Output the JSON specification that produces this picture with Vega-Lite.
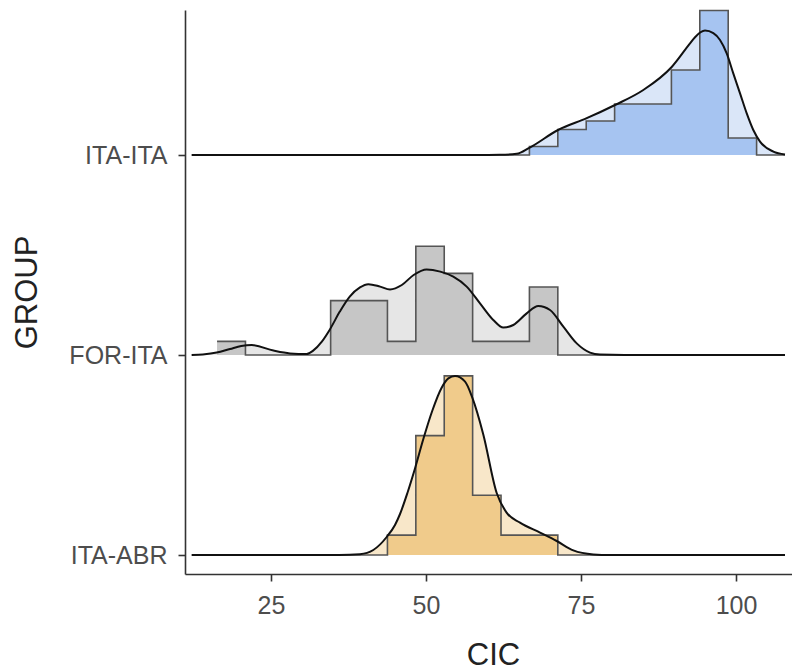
{
  "$schema": "https://vega.github.io/schema/vega-lite/v6.json",
  "width": 607,
  "height": 564,
  "autosize": {"type": "none"},
  "padding": {"left": 185, "top": 10, "right": 0, "bottom": 98},
  "background": "white",
  "config": {
    "view": {"stroke": null},
    "font": "Liberation Sans",
    "axis": {
      "grid": false,
      "domainColor": "#333333",
      "domainWidth": 1.6,
      "tickColor": "#333333",
      "tickWidth": 1.6,
      "tickSize": 7,
      "labelFont": "Liberation Sans",
      "labelFontSize": 25,
      "labelColor": "#4d4d4d",
      "titleFont": "Liberation Sans",
      "titleFontSize": 31,
      "titleFontWeight": "normal",
      "titleColor": "#222222"
    }
  },
  "datasets": {
    "hist": [
      {"group": "ITA-ITA", "x": 16.3, "height": 0},
      {"group": "ITA-ITA", "x": 20.88, "height": 0},
      {"group": "ITA-ITA", "x": 25.46, "height": 0},
      {"group": "ITA-ITA", "x": 30.04, "height": 0},
      {"group": "ITA-ITA", "x": 34.62, "height": 0},
      {"group": "ITA-ITA", "x": 39.2, "height": 0},
      {"group": "ITA-ITA", "x": 43.78, "height": 0},
      {"group": "ITA-ITA", "x": 48.36, "height": 0},
      {"group": "ITA-ITA", "x": 52.94, "height": 0},
      {"group": "ITA-ITA", "x": 57.52, "height": 0},
      {"group": "ITA-ITA", "x": 62.1, "height": 0},
      {"group": "ITA-ITA", "x": 66.68, "height": 0.0425},
      {"group": "ITA-ITA", "x": 71.26, "height": 0.1275},
      {"group": "ITA-ITA", "x": 75.84, "height": 0.17},
      {"group": "ITA-ITA", "x": 80.42, "height": 0.255},
      {"group": "ITA-ITA", "x": 85.0, "height": 0.255},
      {"group": "ITA-ITA", "x": 89.58, "height": 0.425},
      {"group": "ITA-ITA", "x": 94.16, "height": 0.7225},
      {"group": "ITA-ITA", "x": 98.74, "height": 0.085},
      {"group": "ITA-ITA", "x": 103.32, "height": 0},
      {"group": "ITA-ITA", "x": 107.9, "height": 0},
      {"group": "FOR-ITA", "x": 16.3, "height": 0.068},
      {"group": "FOR-ITA", "x": 20.88, "height": 0},
      {"group": "FOR-ITA", "x": 25.46, "height": 0},
      {"group": "FOR-ITA", "x": 30.04, "height": 0},
      {"group": "FOR-ITA", "x": 34.62, "height": 0.272},
      {"group": "FOR-ITA", "x": 39.2, "height": 0.272},
      {"group": "FOR-ITA", "x": 43.78, "height": 0.068},
      {"group": "FOR-ITA", "x": 48.36, "height": 0.544},
      {"group": "FOR-ITA", "x": 52.94, "height": 0.408},
      {"group": "FOR-ITA", "x": 57.52, "height": 0.068},
      {"group": "FOR-ITA", "x": 62.1, "height": 0.068},
      {"group": "FOR-ITA", "x": 66.68, "height": 0.34},
      {"group": "FOR-ITA", "x": 71.26, "height": 0},
      {"group": "FOR-ITA", "x": 75.84, "height": 0},
      {"group": "FOR-ITA", "x": 80.42, "height": 0},
      {"group": "FOR-ITA", "x": 85.0, "height": 0},
      {"group": "FOR-ITA", "x": 89.58, "height": 0},
      {"group": "FOR-ITA", "x": 94.16, "height": 0},
      {"group": "FOR-ITA", "x": 98.74, "height": 0},
      {"group": "FOR-ITA", "x": 103.32, "height": 0},
      {"group": "FOR-ITA", "x": 107.9, "height": 0},
      {"group": "ITA-ABR", "x": 16.3, "height": 0},
      {"group": "ITA-ABR", "x": 20.88, "height": 0},
      {"group": "ITA-ABR", "x": 25.46, "height": 0},
      {"group": "ITA-ABR", "x": 30.04, "height": 0},
      {"group": "ITA-ABR", "x": 34.62, "height": 0},
      {"group": "ITA-ABR", "x": 39.2, "height": 0},
      {"group": "ITA-ABR", "x": 43.78, "height": 0.0995},
      {"group": "ITA-ABR", "x": 48.36, "height": 0.597},
      {"group": "ITA-ABR", "x": 52.94, "height": 0.8955},
      {"group": "ITA-ABR", "x": 57.52, "height": 0.2985},
      {"group": "ITA-ABR", "x": 62.1, "height": 0.0995},
      {"group": "ITA-ABR", "x": 66.68, "height": 0.0995},
      {"group": "ITA-ABR", "x": 71.26, "height": 0},
      {"group": "ITA-ABR", "x": 75.84, "height": 0},
      {"group": "ITA-ABR", "x": 80.42, "height": 0},
      {"group": "ITA-ABR", "x": 85.0, "height": 0},
      {"group": "ITA-ABR", "x": 89.58, "height": 0},
      {"group": "ITA-ABR", "x": 94.16, "height": 0},
      {"group": "ITA-ABR", "x": 98.74, "height": 0},
      {"group": "ITA-ABR", "x": 103.32, "height": 0},
      {"group": "ITA-ABR", "x": 107.9, "height": 0}
    ],
    "dens": [
      {"group": "ITA-ITA", "x": 12.2, "height": 0},
      {"group": "ITA-ITA", "x": 55.0, "height": 0},
      {"group": "ITA-ITA", "x": 61.9, "height": 0.001},
      {"group": "ITA-ITA", "x": 64.63, "height": 0.006},
      {"group": "ITA-ITA", "x": 66.66, "height": 0.036},
      {"group": "ITA-ITA", "x": 71.29, "height": 0.125},
      {"group": "ITA-ITA", "x": 75.92, "height": 0.184},
      {"group": "ITA-ITA", "x": 80.48, "height": 0.25},
      {"group": "ITA-ITA", "x": 85.05, "height": 0.325},
      {"group": "ITA-ITA", "x": 89.63, "height": 0.44},
      {"group": "ITA-ITA", "x": 92.58, "height": 0.558},
      {"group": "ITA-ITA", "x": 93.39, "height": 0.589},
      {"group": "ITA-ITA", "x": 95.0, "height": 0.622},
      {"group": "ITA-ITA", "x": 96.34, "height": 0.609},
      {"group": "ITA-ITA", "x": 97.42, "height": 0.575},
      {"group": "ITA-ITA", "x": 98.5, "height": 0.508},
      {"group": "ITA-ITA", "x": 99.56, "height": 0.408},
      {"group": "ITA-ITA", "x": 100.65, "height": 0.308},
      {"group": "ITA-ITA", "x": 101.73, "height": 0.208},
      {"group": "ITA-ITA", "x": 102.79, "height": 0.125},
      {"group": "ITA-ITA", "x": 103.87, "height": 0.067},
      {"group": "ITA-ITA", "x": 106.02, "height": 0.017},
      {"group": "ITA-ITA", "x": 107.9, "height": 0.003},
      {"group": "FOR-ITA", "x": 12.2, "height": 0},
      {"group": "FOR-ITA", "x": 14.0, "height": 0.003},
      {"group": "FOR-ITA", "x": 16.24, "height": 0.012},
      {"group": "FOR-ITA", "x": 18.39, "height": 0.03},
      {"group": "FOR-ITA", "x": 20.2, "height": 0.045},
      {"group": "FOR-ITA", "x": 21.89, "height": 0.05},
      {"group": "FOR-ITA", "x": 25.4, "height": 0.022},
      {"group": "FOR-ITA", "x": 28.06, "height": 0.008},
      {"group": "FOR-ITA", "x": 30.76, "height": 0.005},
      {"group": "FOR-ITA", "x": 31.8, "height": 0.022},
      {"group": "FOR-ITA", "x": 33.2, "height": 0.067},
      {"group": "FOR-ITA", "x": 34.5, "height": 0.128},
      {"group": "FOR-ITA", "x": 36.1, "height": 0.217},
      {"group": "FOR-ITA", "x": 37.7, "height": 0.292},
      {"group": "FOR-ITA", "x": 39.35, "height": 0.338},
      {"group": "FOR-ITA", "x": 40.7, "height": 0.354},
      {"group": "FOR-ITA", "x": 42.6, "height": 0.342},
      {"group": "FOR-ITA", "x": 44.2, "height": 0.328},
      {"group": "FOR-ITA", "x": 46.1, "height": 0.35},
      {"group": "FOR-ITA", "x": 48.0, "height": 0.4},
      {"group": "FOR-ITA", "x": 50.1, "height": 0.428},
      {"group": "FOR-ITA", "x": 52.3, "height": 0.417},
      {"group": "FOR-ITA", "x": 54.4, "height": 0.392},
      {"group": "FOR-ITA", "x": 56.56, "height": 0.342},
      {"group": "FOR-ITA", "x": 58.71, "height": 0.258},
      {"group": "FOR-ITA", "x": 60.85, "height": 0.175},
      {"group": "FOR-ITA", "x": 62.47, "height": 0.137},
      {"group": "FOR-ITA", "x": 64.08, "height": 0.15},
      {"group": "FOR-ITA", "x": 66.24, "height": 0.208},
      {"group": "FOR-ITA", "x": 68.11, "height": 0.245},
      {"group": "FOR-ITA", "x": 70.0, "height": 0.225},
      {"group": "FOR-ITA", "x": 72.15, "height": 0.142},
      {"group": "FOR-ITA", "x": 74.31, "height": 0.058},
      {"group": "FOR-ITA", "x": 76.45, "height": 0.012},
      {"group": "FOR-ITA", "x": 78.06, "height": 0.002},
      {"group": "FOR-ITA", "x": 82.0, "height": 0},
      {"group": "FOR-ITA", "x": 107.9, "height": 0},
      {"group": "ITA-ABR", "x": 12.2, "height": 0},
      {"group": "ITA-ABR", "x": 36.0, "height": 0},
      {"group": "ITA-ABR", "x": 39.35, "height": 0.004},
      {"group": "ITA-ABR", "x": 41.5, "height": 0.025},
      {"group": "ITA-ABR", "x": 43.66, "height": 0.09},
      {"group": "ITA-ABR", "x": 45.0, "height": 0.15},
      {"group": "ITA-ABR", "x": 45.81, "height": 0.205},
      {"group": "ITA-ABR", "x": 47.0, "height": 0.31},
      {"group": "ITA-ABR", "x": 48.2, "height": 0.43},
      {"group": "ITA-ABR", "x": 49.57, "height": 0.58},
      {"group": "ITA-ABR", "x": 51.0, "height": 0.72},
      {"group": "ITA-ABR", "x": 52.5, "height": 0.835},
      {"group": "ITA-ABR", "x": 53.6, "height": 0.883},
      {"group": "ITA-ABR", "x": 54.68, "height": 0.895},
      {"group": "ITA-ABR", "x": 56.3, "height": 0.867},
      {"group": "ITA-ABR", "x": 57.47, "height": 0.787},
      {"group": "ITA-ABR", "x": 59.24, "height": 0.603},
      {"group": "ITA-ABR", "x": 61.4, "height": 0.31},
      {"group": "ITA-ABR", "x": 63.0, "height": 0.212},
      {"group": "ITA-ABR", "x": 65.16, "height": 0.162},
      {"group": "ITA-ABR", "x": 68.39, "height": 0.112},
      {"group": "ITA-ABR", "x": 71.08, "height": 0.07},
      {"group": "ITA-ABR", "x": 73.76, "height": 0.023},
      {"group": "ITA-ABR", "x": 76.98, "height": 0.003},
      {"group": "ITA-ABR", "x": 79.68, "height": 0},
      {"group": "ITA-ABR", "x": 107.9, "height": 0}
    ]
  },
  "resolve": {"scale": {"color": "independent"}},
  "layer": [
    {
      "data": {"name": "dens"},
      "transform": [
        {"calculate": "datum.group === 'ITA-ITA' ? 2 : (datum.group === 'FOR-ITA' ? 1 : 0)", "as": "base"},
        {"calculate": "datum.base + datum.height", "as": "top"}
      ],
      "mark": {"type": "area", "interpolate": "monotone", "opacity": 1},
      "encoding": {
        "x": {"field": "x", "type": "quantitative", "scale": {"domain": [11.13, 109.03], "nice": false, "zero": false},
              "axis": {"values": [25, 50, 75, 100], "title": "CIC", "labelPadding": 12, "titleX": 308, "titleY": 66, "titleBaseline": "top"}},
        "y": {"field": "top", "type": "quantitative", "scale": {"domain": [-0.095, 2.725], "nice": false, "zero": false},
              "axis": {"values": [0, 1, 2], "labelExpr": "datum.value === 2 ? 'ITA-ITA' : (datum.value === 1 ? 'FOR-ITA' : 'ITA-ABR')", "labelPadding": 11, "title": "GROUP", "titleX": -142, "titleY": 282, "titleAngle": -90, "titleBaseline": "bottom", "titleAlign": "center"}},
        "y2": {"field": "base"},
        "color": {"field": "group", "type": "nominal", "legend": null,
                  "scale": {"domain": ["ITA-ITA", "FOR-ITA", "ITA-ABR"], "range": ["#dae6f8", "#e6e6e6", "#f8e7c9"]}}
      }
    },
    {
      "data": {"name": "hist"},
      "transform": [
        {"calculate": "datum.group === 'ITA-ITA' ? 2 : (datum.group === 'FOR-ITA' ? 1 : 0)", "as": "base"},
        {"calculate": "datum.base + datum.height", "as": "top"}
      ],
      "mark": {"type": "area", "interpolate": "step-after", "opacity": 1},
      "encoding": {
        "x": {"field": "x", "type": "quantitative"},
        "y": {"field": "top", "type": "quantitative"},
        "y2": {"field": "base"},
        "color": {"field": "group", "type": "nominal", "legend": null,
                  "scale": {"domain": ["ITA-ITA", "FOR-ITA", "ITA-ABR"], "range": ["#a6c4f1", "#c6c6c6", "#f0cb8b"]}}
      }
    },
    {
      "data": {"name": "hist"},
      "transform": [
        {"calculate": "datum.group === 'ITA-ITA' ? 2 : (datum.group === 'FOR-ITA' ? 1 : 0)", "as": "base"},
        {"calculate": "datum.base + datum.height", "as": "top"}
      ],
      "mark": {"type": "line", "interpolate": "step-after", "color": "#555555", "strokeWidth": 1.6},
      "encoding": {
        "x": {"field": "x", "type": "quantitative"},
        "y": {"field": "top", "type": "quantitative"},
        "detail": {"field": "group", "type": "nominal"}
      }
    },
    {
      "data": {"name": "dens"},
      "transform": [
        {"calculate": "datum.group === 'ITA-ITA' ? 2 : (datum.group === 'FOR-ITA' ? 1 : 0)", "as": "base"},
        {"calculate": "datum.base + datum.height", "as": "top"}
      ],
      "mark": {"type": "line", "interpolate": "monotone", "color": "#111111", "strokeWidth": 2},
      "encoding": {
        "x": {"field": "x", "type": "quantitative"},
        "y": {"field": "top", "type": "quantitative"},
        "detail": {"field": "group", "type": "nominal"}
      }
    }
  ]
}
